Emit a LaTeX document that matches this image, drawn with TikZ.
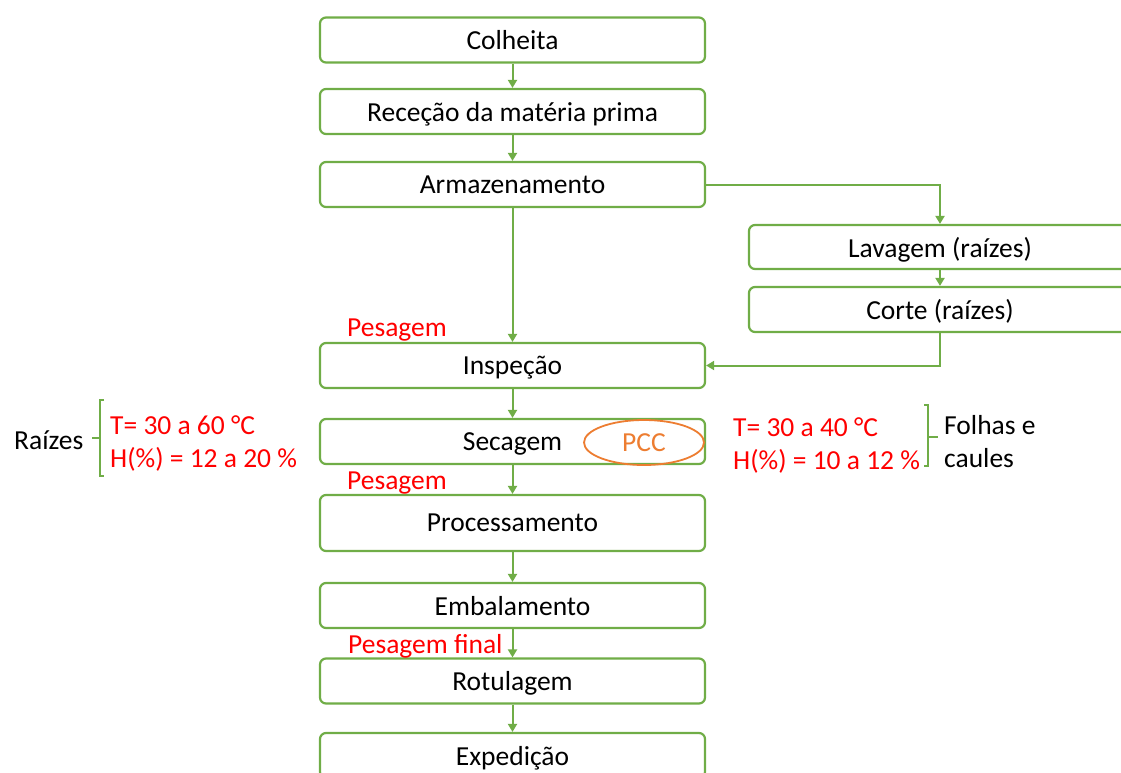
\documentclass[tikz,border=0pt]{standalone}
\usepackage{fontspec}
\setmainfont{Carlito}
\usetikzlibrary{arrows.meta, shapes.geometric}
\definecolor{boxgreen}{RGB}{112,173,71}
\definecolor{pccorange}{RGB}{237,125,49}
\tikzset{
    stepbox/.style={draw=boxgreen, line width=2.2pt, rounded corners=6pt, fill=white, text depth=0pt,
        minimum width=385pt, minimum height=45pt, inner sep=0pt, font=\fontsize{27.5}{32}\selectfont},
    flow/.style={boxgreen, line width=2pt, -{Triangle[width=9pt,length=8pt]}},
    redtext/.style={text=red, anchor=west, inner sep=0pt, yshift=-2pt, font=\fontsize{27.5}{32}\selectfont},
    plaintext/.style={anchor=west, inner sep=0pt, yshift=-2pt, font=\fontsize{27.5}{32}\selectfont},
    bracket/.style={boxgreen, line width=1.8pt}
}

\begin{document}
\begin{tikzpicture}[x=1pt, y=-1pt]
        \useasboundingbox (0, 0) rectangle (1121, 772);

        \node[stepbox] (colheita) at (512.5, 40) {Colheita};
        \node[stepbox] (rececao) at (512.5, 111.5) {Receção da matéria prima};
        \node[stepbox] (armaz) at (512.5, 184.5) {Armazenamento};
        \node[stepbox, minimum width=382pt, minimum height=44pt] (lavagem) at (940, 247) {Lavagem (raízes)};
        \node[stepbox, minimum width=382pt] (corte) at (940, 309.5) {Corte (raízes)};
        \node[stepbox] (inspecao) at (512.5, 365.5) {Inspeção};
        \node[stepbox] (secagem) at (512.5, 441.5) {Secagem};
        \node[stepbox, minimum height=56pt] (process) at (512.5, 523) {Processamento};
        \node[stepbox] (embala) at (512.5, 605.5) {Embalamento};
        \node[stepbox] (rotula) at (512.5, 681) {Rotulagem};
        \node[stepbox] (expedicao) at (512.5, 755.5) {Expedição};

        \draw[flow] (colheita) -- (rececao);
        \draw[flow] (rececao) -- (armaz);
        \draw[flow] (armaz) -- (inspecao);
        \draw[flow] (armaz.east) -| (lavagem.north);
        \draw[flow] (lavagem) -- (corte);
        \draw[flow] (corte.south) |- (inspecao.east);
        \draw[flow] (inspecao) -- (secagem);
        \draw[flow] (secagem) -- (process);
        \draw[flow] (process) -- (embala);
        \draw[flow] (embala) -- (rotula);
        \draw[flow] (rotula) -- (expedicao);

        \node[redtext] (pes1) at (347, 328) {Pesagem};
        \node[redtext] (pes2) at (347, 481) {Pesagem};
        \node[redtext] (pesfinal) at (348, 644) {Pesagem final};

        \node[ellipse, draw=pccorange, line width=1.8pt, minimum width=120pt, minimum height=45pt, text depth=0pt,
            text=pccorange, font=\fontsize{27.5}{32}\selectfont] (pcc) at (644, 442.5) {PCC};

        % raizes
        \node[plaintext] (raizes) at (14, 438) {Raízes};
        \draw[bracket] (104, 400) -- (100, 400) -- (100, 476) -- (104, 476);
        \draw[bracket] (92, 438) -- (100, 438);
        \node[redtext] (traiz) at (110, 423) {T= 30 a 60 °C};
        \node[redtext] (hraiz) at (110, 457) {H(\%) = 12 a 20 \%};

        % folhas e caules
        \node[redtext] (tfolha) at (733, 425) {T= 30 a 40 °C};
        \node[redtext] (hfolha) at (733, 459) {H(\%) = 10 a 12 \%};
        \draw[bracket] (924, 405) -- (928, 405) -- (928, 466) -- (924, 466);
        \draw[bracket] (928, 437) -- (938, 437);
        \node[plaintext] (folhas) at (944, 423) {Folhas e};
        \node[plaintext] (caules) at (944, 456) {caules};
    \end{tikzpicture}
\end{document}
